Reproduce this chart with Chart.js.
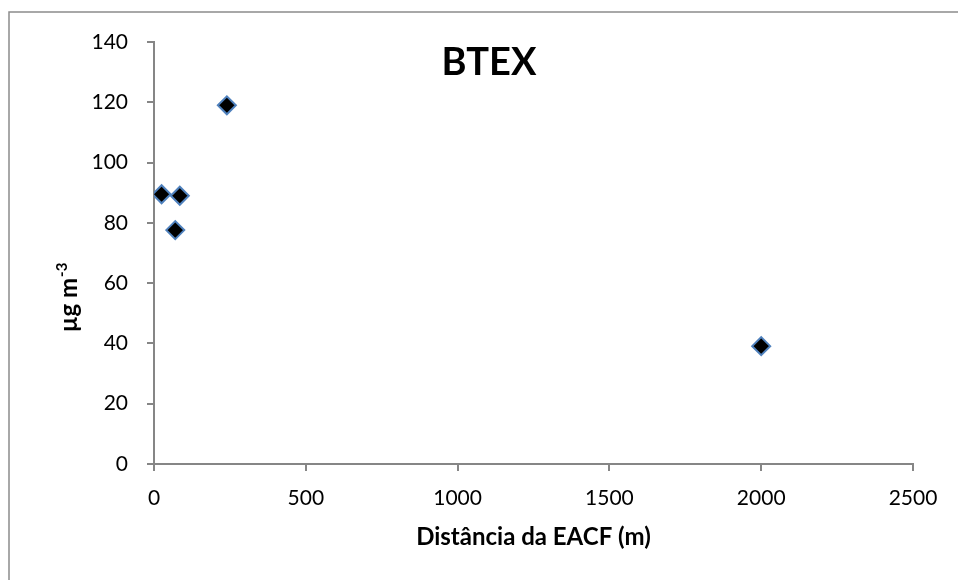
<!DOCTYPE html>
<html>
<head>
<meta charset="utf-8">
<script src="https://cdn.jsdelivr.net/npm/chart.js@4.4.1/dist/chart.umd.min.js"></script>
<style>
  html, body { margin: 0; padding: 0; background: #ffffff; }
  #wrap { width: 958px; height: 580px; position: relative; }
</style>
</head>
<body>
<div id="wrap"><canvas id="c" width="958" height="580"></canvas></div>
<script>
// Distance from the station (m) and BTEX concentration (µg m-3)
const distances = [25, 85, 70, 240, 2000];
const btexValues = [89.5, 89, 77.6, 119, 39.1];
const xTicks = [0, 500, 1000, 1500, 2000, 2500];
const yTicks = [0, 20, 40, 60, 80, 100, 120, 140];
const chartTitle = 'BTEX';
const xTitle = 'Distância da EACF (m)';
const yTitleMain = 'µg m';
const yTitleSup = '-3';

const FONT = 'Lato, "Open Sans", sans-serif';
const AXIS = '#868686';

const points = distances.map((d, i) => ({ x: d, y: btexValues[i] }));

// Frame, title and axis titles
const decorations = {
  id: 'decorations',
  afterDraw(chart) {
    const ctx = chart.ctx;
    const area = chart.chartArea;
    ctx.save();
    ctx.strokeStyle = '#8c8c8c';
    ctx.lineWidth = 1.5;
    ctx.strokeRect(9, 12, 1000, 1000);

    ctx.fillStyle = '#000';
    ctx.textAlign = 'center';
    ctx.textBaseline = 'middle';
    ctx.font = 'bold 38px ' + FONT;
    ctx.fillText(chartTitle, 489, 63);

    ctx.font = 'bold 24px ' + FONT;
    ctx.fillText(xTitle, (area.left + area.right) / 2, 537);

    // rotated y title with superscript
    ctx.translate(77, 298);
    ctx.rotate(-Math.PI / 2);
    ctx.font = 'bold 24px ' + FONT;
    const wMain = ctx.measureText(yTitleMain).width;
    ctx.font = 'bold 15px ' + FONT;
    const wSup = ctx.measureText(yTitleSup).width;
    const total = wMain + wSup;
    ctx.textAlign = 'left';
    ctx.textBaseline = 'alphabetic';
    ctx.font = 'bold 24px ' + FONT;
    ctx.fillText(yTitleMain, -total / 2, 0);
    ctx.font = 'bold 15px ' + FONT;
    ctx.fillText(yTitleSup, -total / 2 + wMain + 1, -10);
    ctx.restore();
  }
};

new Chart(document.getElementById('c'), {
  type: 'scatter',
  data: {
    datasets: [{
      data: points,
      pointStyle: 'rectRot',
      pointRadius: 9,
      pointHoverRadius: 9,
      backgroundColor: '#000000',
      borderColor: '#4f81bd',
      borderWidth: 2
    }]
  },
  options: {
    responsive: false,
    animation: false,
    events: [],
    layout: { padding: { left: 0, right: 45, top: 42, bottom: 0 } },
    plugins: {
      legend: { display: false },
      tooltip: { enabled: false },
      title: { display: false }
    },
    scales: {
      x: {
        type: 'linear',
        min: xTicks[0],
        max: xTicks[xTicks.length - 1],
        afterBuildTicks(scale) { scale.ticks = xTicks.map(v => ({ value: v })); },
        afterFit(scale) { scale.height = 116; },
        grid: { drawOnChartArea: false, drawTicks: true, tickLength: 7, color: AXIS, lineWidth: 2 },
        border: { display: true, color: AXIS, width: 2 },
        ticks: {
          color: '#000', font: { family: FONT, size: 21 }, padding: 15, maxRotation: 0,
          callback: v => String(v)
        }
      },
      y: {
        type: 'linear',
        min: yTicks[0],
        max: yTicks[yTicks.length - 1],
        afterBuildTicks(scale) { scale.ticks = yTicks.map(v => ({ value: v })); },
        afterFit(scale) { scale.width = 154; },
        grid: { drawOnChartArea: false, drawTicks: true, tickLength: 7, color: AXIS, lineWidth: 2 },
        border: { display: true, color: AXIS, width: 2 },
        ticks: {
          color: '#000', font: { family: FONT, size: 21 }, padding: 19,
          callback: v => String(v)
        }
      }
    }
  },
  plugins: [decorations]
});
</script>
</body>
</html>
